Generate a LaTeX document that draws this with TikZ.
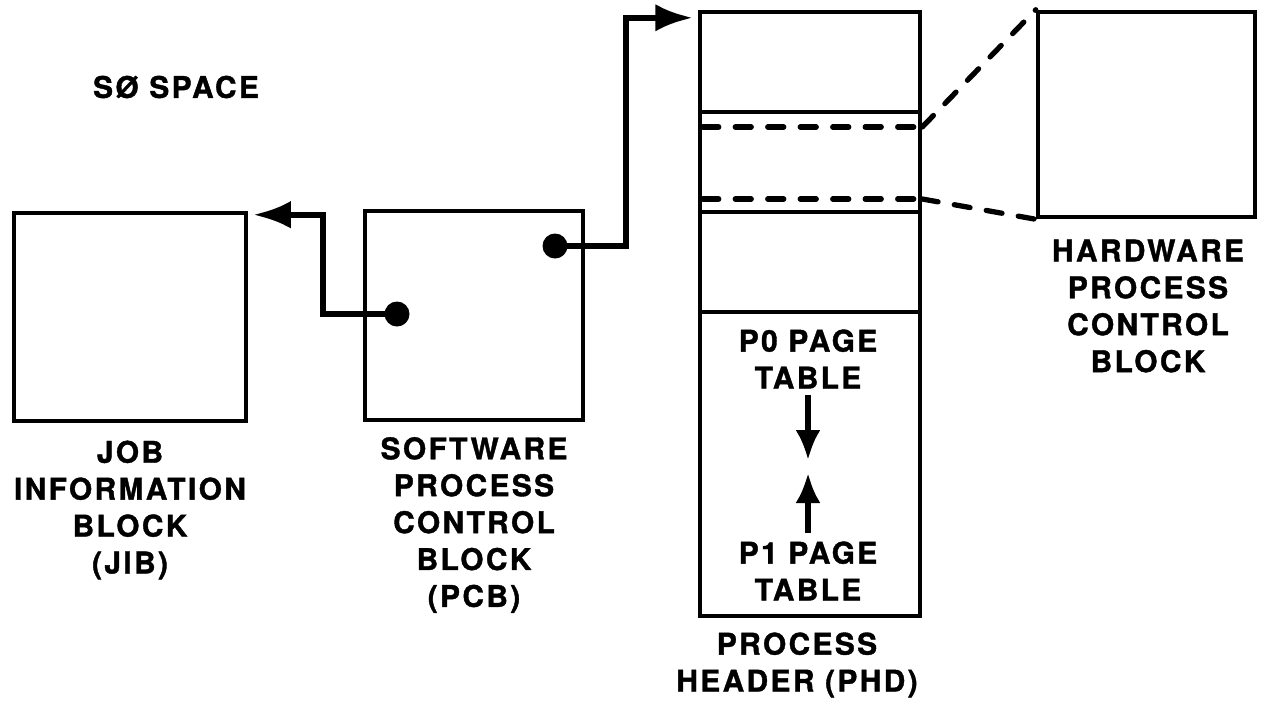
\documentclass[tikz,border=0pt]{standalone}
\usepackage{fontspec}
\setmainfont{TeX Gyre Heros}[LetterSpace=8, BoldFeatures={FakeBold=1.3}]
\usetikzlibrary{arrows.meta,calc}

\begin{document}
\begin{tikzpicture}[x=0.02cm, y=-0.02cm,
      blk/.style={draw, line width=2.6pt, inner sep=0pt},
      lbl/.style={align=center, inner sep=0pt,
                  font=\fontsize{17}{21}\selectfont\bfseries},
      dot/.style={circle, fill, inner sep=0pt, minimum size=0.5cm},
      arr/.style={-{Latex[length=0.75cm,width=0.55cm]}, line width=3.6pt},
      parr/.style={-{Latex[length=0.6cm,width=0.5cm]}, line width=3pt},
      seam/.style={line width=3pt, line cap=round, dash pattern=on 0.32cm off 0.33cm}
    ]
      \path[use as bounding box, fill=white] (0,0) rectangle (1263,704);

      \node[lbl] (s0) at (176,87) {SØ SPACE};

      \node[blk, minimum width=4.64cm, minimum height=4.16cm] (jib) at (130,317) {};
      \node[blk, minimum width=4.36cm, minimum height=4.18cm] (pcb) at (474,315.5) {};
      \node[blk, minimum width=4.4cm, minimum height=12.08cm] (phd) at (810,314) {};
      \node[blk, minimum width=4.34cm, minimum height=4.1cm] (hw) at (1146.5,114.5) {};

      \foreach \yy in {112,212,312}
        \draw[line width=2.6pt] (phd.west |- 0,\yy) -- (phd.east |- 0,\yy);
      \foreach \yy in {127,199}
        \draw[seam] ([xshift=0.1cm]phd.west |- 0,\yy) -- (phd.east |- 0,\yy);

      \coordinate (hwtop) at (phd.east |- 0,127);
      \coordinate (hwbot) at (phd.east |- 0,199);
      \draw[seam] (hwtop) -- (hw.north west);
      \draw[seam] (hwbot) -- (hw.south west);

      \node[dot] (d1) at (397,314) {};
      \node[dot] (d2) at (555,246) {};
      \coordinate (k1) at (323,314);
      \coordinate (k2) at (626,246);
      \draw[arr] (d1.center) -- (k1) |- ($(jib.north east)+(5,4)$);
      \draw[arr] (d2.center) -- (k2) |- ($(phd.north west)+(-5,8)$);

      \node[lbl] (p0) at (808,359) {P0 PAGE\\TABLE};
      \node[lbl] (p1) at (808,571) {P1 PAGE\\TABLE};
      \coordinate (m0) at (808,460);
      \coordinate (m1) at (808,473);
      \draw[parr] ([yshift=-0.12cm]p0.south) -- (m0);
      \draw[parr] ([yshift=0.16cm]p1.north) -- (m1);

      \node[lbl] (jibtxt) at (130,510) {JOB\\INFORMATION\\BLOCK\\(JIB)};
      \node[lbl] (pcbtxt) at (474,525) {SOFTWARE\\PROCESS\\CONTROL\\BLOCK\\(PCB)};
      \node[lbl] (phdtxt) at (797,665) {PROCESS\\HEADER (PHD)};
      \node[lbl] (hwtxt) at (1148,306) {HARDWARE\\PROCESS\\CONTROL\\BLOCK};
    \end{tikzpicture}
\end{document}
